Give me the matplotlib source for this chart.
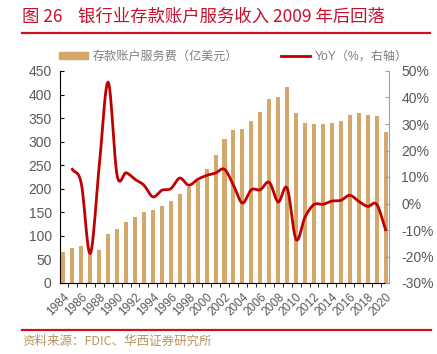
import numpy as np
import matplotlib
matplotlib.use("Agg")
import matplotlib.pyplot as plt
from matplotlib.patches import Patch
from matplotlib.lines import Line2D

plt.rcParams['font.family'] = ['Liberation Sans', 'Noto Sans CJK SC', 'DejaVu Sans']

# 數據
years = list(range(1984, 2021))
fees = [66, 75, 79, 62, 71, 103, 115, 129, 141, 151, 155, 163, 173,
        188, 204, 216, 243, 271, 305, 325, 327, 344, 362, 391, 394, 416,
        361, 340, 337, 337, 340, 344, 356, 360, 357, 354, 321]
yoy_years = list(range(1985, 2021))
yoy = [12.9, 7.5, -18.9, 14.0, 45.8, 10.6, 11.6, 9.1, 6.9, 2.5, 5.0, 5.6,
       9.6, 6.9, 9.1, 10.6, 11.5, 12.9, 6.9, 0.2, 5.2, 5.2, 8.0, 0.6, 5.8,
       -13.6, -5.1, -0.4, -0.3, 0.9, 1.2, 3.1, 0.8, -1.1, -0.3, -9.9]

bar_color = '#D3A86A'
line_color = '#C00000'
gray = '#595959'


def catmull_rom(x, y, n=12):
    # 平滑曲線 (僅用於繪製)
    x = np.asarray(x, float)
    y = np.asarray(y, float)
    px = np.concatenate([[2 * x[0] - x[1]], x, [2 * x[-1] - x[-2]]])
    py = np.concatenate([[2 * y[0] - y[1]], y, [2 * y[-1] - y[-2]]])
    xs, ys = [], []
    t = np.linspace(0, 1, n, endpoint=False)
    for i in range(1, len(px) - 2):
        for p, out in ((px, xs), (py, ys)):
            p0, p1, p2, p3 = p[i - 1], p[i], p[i + 1], p[i + 2]
            out.extend(0.5 * (2 * p1 + (-p0 + p2) * t
                              + (2 * p0 - 5 * p1 + 4 * p2 - p3) * t ** 2
                              + (-p0 + 3 * p1 - 3 * p2 + p3) * t ** 3))
    xs.append(x[-1])
    ys.append(y[-1])
    return np.array(xs), np.array(ys)


W, H = 437, 354
fig = plt.figure(figsize=(W / 100, H / 100), dpi=100)
left, right, top, bottom = 60, 389, 71, 283
ax = fig.add_axes([left / W, 1 - bottom / H, (right - left) / W, (bottom - top) / H])

xi = np.arange(len(years))
ax.bar(xi, fees, width=0.45, color=bar_color, zorder=2)
ax.set_xlim(-0.38, len(years) - 0.62)
ax.set_ylim(0, 450)
ax.set_yticks(range(0, 451, 50))
ax.set_xticks(xi[::2])
ax.set_xticklabels([str(y) for y in years[::2]], rotation=45, ha='right',
                   rotation_mode='anchor', fontsize=8.5, color=gray)
ax.set_xticks(xi[:-1] + 0.5, minor=True)
ax.tick_params(axis='x', which='major', length=0, pad=6)
ax.tick_params(axis='x', which='minor', length=3, direction='out', color='black')
ax.tick_params(axis='y', direction='in', length=3, labelsize=10, labelcolor=gray, pad=6)
for s in ('top', 'right'):
    ax.spines[s].set_visible(False)

ax2 = ax.twinx()
ax2.set_position(ax.get_position())
lx = np.array([years.index(y) for y in yoy_years])
sx, sy = catmull_rom(lx, yoy)
ax2.plot(sx, sy, color=line_color, lw=2, zorder=3)
ax2.set_ylim(-30, 50)
ax2.set_yticks(range(-30, 51, 10))
ax2.set_yticklabels([f'{v}%' for v in range(-30, 51, 10)])
ax2.tick_params(axis='y', direction='in', length=3, labelsize=10, labelcolor=gray,
                color='#a0a0a0', pad=9)
for s in ('top', 'left', 'bottom'):
    ax2.spines[s].set_visible(False)
ax2.spines['right'].set_color('#a0a0a0')

# 圖例
handles = [Patch(color=bar_color), Line2D([], [], color=line_color, lw=2)]
labels = ['存款账户服务费（亿美元）', 'YoY（%，右轴）']
fig.legend(handles, labels, loc='center left', bbox_to_anchor=(59 / W, 1 - 57 / H),
           ncol=2, frameon=False, fontsize=8.7, labelcolor='#7f7f7f',
           handlelength=2.4, handleheight=0.5, handletextpad=0.4,
           columnspacing=3.5, borderpad=0, borderaxespad=0)

# 標題和來源
fig.text(22 / W, 1 - 17 / H, '图 26    银行业存款账户服务收入 2009 年后回落',
         fontsize=12.5, color='#C8102E', va='center', ha='left',
         family=['Noto Sans CJK SC', 'DejaVu Sans'])
fig.add_artist(Line2D([22 / W, 430 / W], [1 - 33 / H, 1 - 33 / H], color='#D0101E', lw=1.6))
fig.add_artist(Line2D([22 / W, 431 / W], [1 - 330 / H, 1 - 330 / H], color='#D0101E', lw=1.6))
fig.text(22 / W, 1 - 341 / H, '资料来源：FDIC、华西证券研究所', fontsize=9,
         color='#B8955E', va='center', ha='left',
         family=['Noto Sans CJK SC', 'DejaVu Sans'])

fig.savefig('out.png', dpi=100)
